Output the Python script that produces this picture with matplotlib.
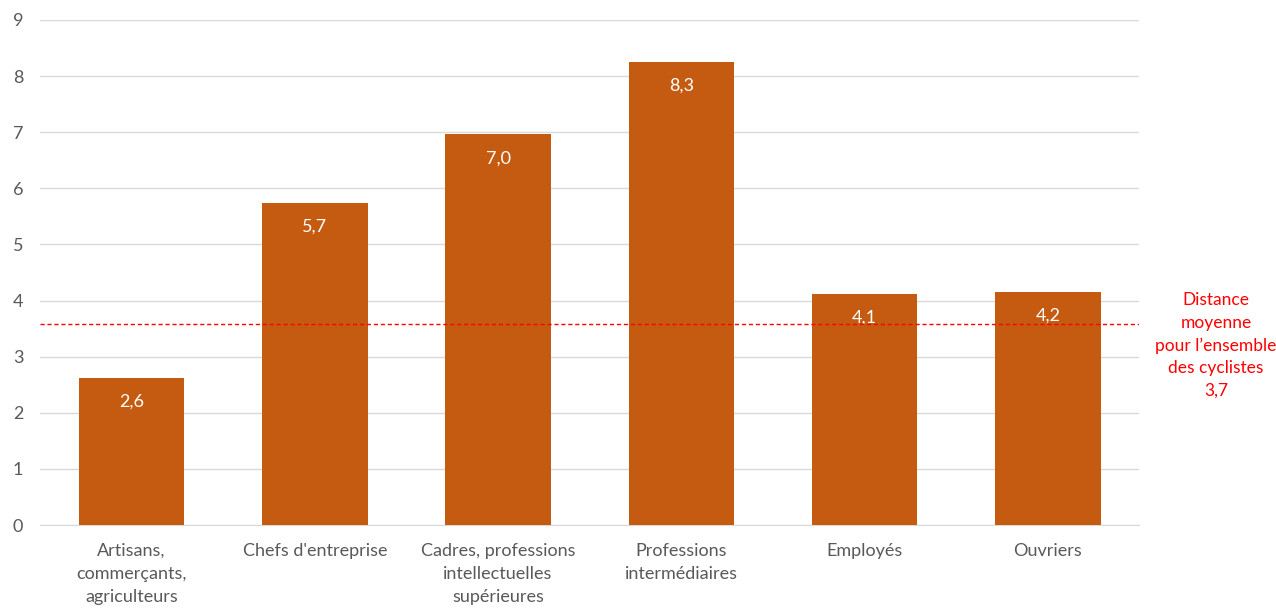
import matplotlib
matplotlib.use("Agg")
import matplotlib.pyplot as plt

categories = ["Artisans,\ncommerçants,\nagriculteurs", "Chefs d'entreprise",
              "Cadres, professions\nintellectuelles\nsupérieures",
              "Professions\nintermédiaires", "Employés", "Ouvriers"]
values = [2.62, 5.74, 6.96, 8.26, 4.12, 4.16]
mean_value = 3.58
mean_label = "Distance\nmoyenne\npour l\u2019ensemble\ndes cyclistes\n3,7"
yticks = list(range(0, 10))

plt.rcParams['font.family'] = ['Lato', 'DejaVu Sans']
text_color = "#595959"
bar_color = "#C55A11"

fig = plt.figure(figsize=(12.76, 6.09), dpi=100)
ax = fig.add_axes([40/1276, 84/609, (1139.5-40)/1276, (589-84)/609])

x = list(range(len(categories)))
bars = ax.bar(x, values, width=0.575, color=bar_color, zorder=3)
for xi, v in zip(x, values):
    ax.annotate(f"{v:.1f}".replace(".", ","), (xi, v), xytext=(0, -11.5),
                textcoords="offset points", ha="center", va="top",
                color="white", fontsize=13, zorder=4)

ax.axhline(mean_value, color="#FF0000", linestyle=(0, (3, 2)), linewidth=1.0, zorder=5)
ax.text((1216 - 40) / 1099.5, 3.2 / 9, mean_label, transform=ax.transAxes,
        ha="center", va="center", color="#FF0000", fontsize=12.5, linespacing=1.5)

ax.set_xlim(-0.5, 5.5)
ax.set_ylim(0, 9)
ax.set_yticks(yticks)
ax.set_yticklabels([str(t) for t in yticks])
ax.set_xticks(x)
ax.set_xticklabels(categories, linespacing=1.55)
ax.grid(axis="y", color="#D9D9D9", linewidth=1.0, zorder=0)
for s in ["top", "right", "left"]:
    ax.spines[s].set_visible(False)
ax.spines["bottom"].set_color("#D9D9D9")
ax.spines["bottom"].set_zorder(2)
ax.tick_params(axis="both", length=0, colors=text_color, labelsize=13)
ax.tick_params(axis="x", pad=13)
ax.tick_params(axis="y", pad=12)

fig.savefig("out.png", dpi=100)
